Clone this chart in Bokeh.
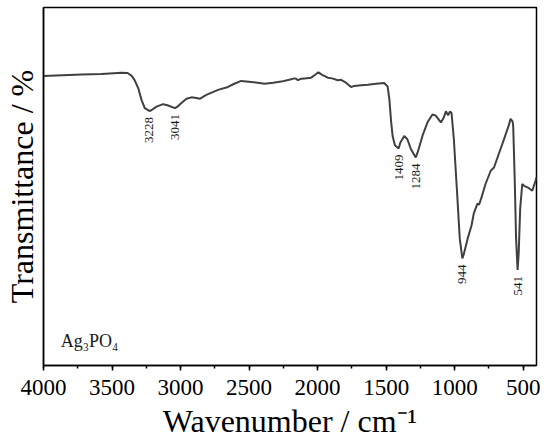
import math
from bokeh.plotting import figure
from bokeh.models import Range1d, SingleIntervalTicker, FixedTicker, ColumnDataSource, Label
from bokeh.core.properties import value
from bokeh.embed import file_html
from bokeh.resources import INLINE

wavenumber = [4000, 3721, 3576, 3430, 3386, 3357, 3336, 3309, 3285, 3261, 3228, 3213, 3176, 3127,
              3096, 3041, 3023, 2994, 2957, 2921, 2884, 2860, 2812, 2726, 2654, 2608, 2557, 2484,
              2387, 2324, 2266, 2207, 2169, 2157, 2144, 2120, 2096, 2047, 2018, 1994, 1967, 1926,
              1894, 1853, 1829, 1793, 1756, 1732, 1683, 1635, 1574, 1514, 1489, 1476, 1465, 1453,
              1436, 1409, 1396, 1368, 1345, 1319, 1284, 1268, 1232, 1196, 1162, 1138, 1101, 1079,
              1064, 1048, 1035, 1023, 1006, 984, 963, 944, 934, 905, 877, 861, 834, 822, 803, 775,
              737, 713, 679, 643, 606, 592, 577, 573, 562, 552, 541, 533, 522, 507, 490, 461, 434,
              410, 403]
transmittance = [80.9, 81.3, 81.4, 81.8, 81.7, 80.9, 79.8, 77.5, 74.2, 71.9, 71.1, 71.3, 72.3, 73.0,
                 72.7, 71.9, 72.3, 73.3, 74.5, 74.9, 74.7, 74.5, 75.6, 77.0, 77.8, 78.7, 79.5, 79.2,
                 78.7, 79.0, 79.3, 79.8, 80.2, 80.1, 79.7, 80.1, 80.2, 80.4, 81.2, 81.9, 81.2, 80.4,
                 80.2, 79.7, 79.8, 79.0, 77.8, 78.1, 78.3, 78.4, 78.7, 78.9, 77.9, 74.2, 68.7, 64.1,
                 61.5, 60.6, 62.3, 64.1, 63.2, 60.4, 58.1, 59.8, 64.5, 68.1, 70.1, 69.8, 67.9, 69.3,
                 71.0, 69.9, 70.9, 70.6, 63.2, 49.3, 35.5, 29.9, 31.0, 35.5, 39.1, 42.4, 45.2, 44.9,
                 47.1, 50.7, 54.4, 55.3, 59.0, 62.9, 67.0, 68.9, 68.1, 66.8, 52.1, 35.5, 26.7, 31.3,
                 43.8, 50.7, 50.1, 49.6, 48.8, 51.6, 52.6]
peaks = [3228, 3041, 1409, 1284, 944, 541]
peak_labels = [str(v) for v in peaks]
sample_name = "Ag\u2083PO\u2084"
x_title = "Wavenumber / cm\u207b\u00b9"
y_title = "Transmittance / %"

lookup = dict(zip(wavenumber, transmittance))
peak_T = [lookup[v] for v in peaks]

FONT = "Liberation Serif"

p = figure(width=550, height=441, output_backend="svg", toolbar_location=None,
           x_range=Range1d(4000, 403), y_range=Range1d(0, 100),
           min_border_top=7, min_border_right=14, min_border_left=42, min_border_bottom=73)
p.background_fill_color = "white"
p.border_fill_color = "white"
p.grid.visible = False
p.outline_line_color = "black"
p.outline_line_width = 1.5

p.line(wavenumber, transmittance, line_color="#404040", line_width=2)

src = ColumnDataSource(dict(x=peaks, y=peak_T, t=peak_labels))
p.text(x="x", y="y", text="t", source=src, angle=math.pi / 2, y_offset=6,
       text_align="right", text_baseline="middle",
       text_font=value(FONT), text_font_size="13px", text_color="#1a1a1a")

p.add_layout(Label(x=3874, y=4.0, text=sample_name, text_font=FONT,
                   text_font_size="18px", text_color="#1a1a1a"))

xa = p.xaxis[0]
xa.ticker = SingleIntervalTicker(interval=500, num_minor_ticks=2)
xa.axis_label = x_title
xa.axis_label_text_font = FONT
xa.axis_label_text_font_style = "normal"
xa.axis_label_text_font_size = "32px"
xa.axis_label_text_color = "black"
xa.axis_label_standoff = 5
xa.major_label_text_font = FONT
xa.major_label_text_font_size = "23px"
xa.major_label_text_color = "black"
xa.major_label_standoff = 9
xa.major_tick_in = 0
xa.major_tick_out = 5
xa.minor_tick_in = 0
xa.minor_tick_out = 3
xa.axis_line_width = 1.5
xa.major_tick_line_width = 1.5
xa.minor_tick_line_width = 1.5

ya = p.yaxis[0]
ya.ticker = FixedTicker(ticks=[])
ya.axis_label = y_title
ya.axis_label_text_font = FONT
ya.axis_label_text_font_style = "normal"
ya.axis_label_text_font_size = "32px"
ya.axis_label_text_color = "black"
ya.axis_label_standoff = 4
ya.axis_line_width = 1.5

open("out.html", "w").write(file_html(p, INLINE))
